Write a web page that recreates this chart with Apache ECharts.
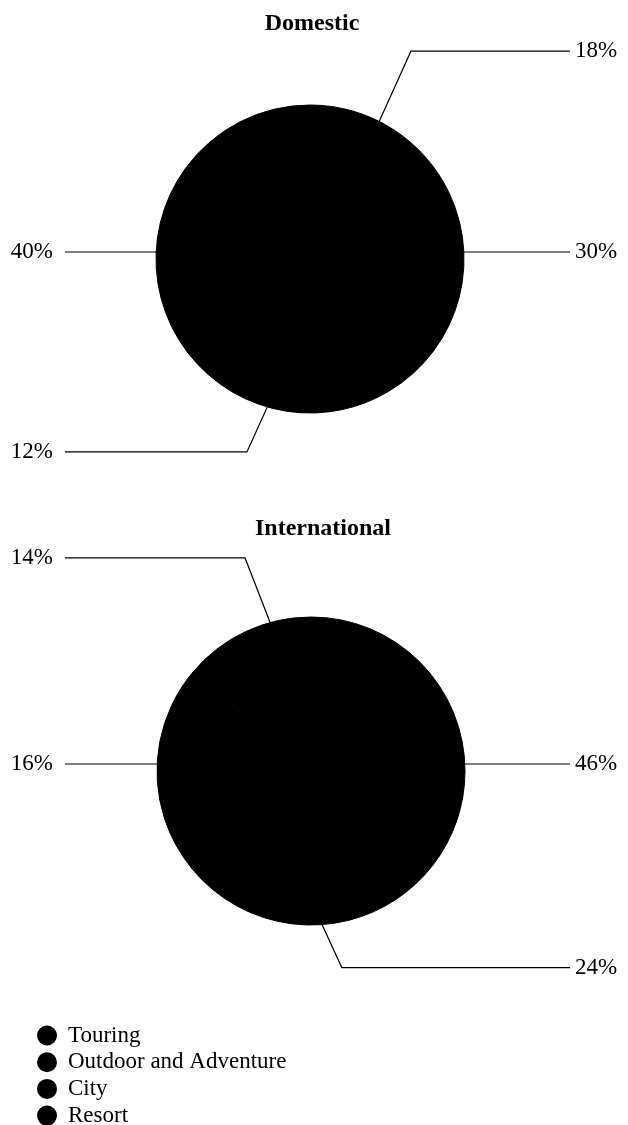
<!DOCTYPE html>
<html>
<head>
<meta charset="utf-8">
<title>Domestic and International</title>
<script src="https://cdn.jsdelivr.net/npm/echarts@6/dist/echarts.min.js"></script>
<style>
  html, body { margin: 0; padding: 0; background: #ffffff; }
  #chart { width: 628px; height: 1125px; }
</style>
</head>
<body>
<div id="chart"></div>
<script>
// Trip types (legend order) and their shares in each market, in percent
const categories = ['Touring', 'Outdoor and Adventure', 'City', 'Resort'];
const domesticShares = [18, 30, 12, 40];
const internationalShares = [46, 24, 16, 14];
const pieTitles = ['Domestic', 'International'];

// Pie placement (pixels)
const PIES = [
  { center: [310, 259], radius: 154, titleX: 312, titleY: 25 },
  { center: [311, 771], radius: 154, titleX: 323, titleY: 530 }
];

// Leader line routing per label: attach angle on the rim (degrees clockwise
// from 12 o'clock) and an optional elbow given in polar form (angle, radius).
const LEADERS = [
  [ { a: 26.7, ea: 25.9, er: 231 }, { a: 87.4 }, { a: 196.1, ea: 198.1, er: 203 }, { a: 272.6 } ],
  [ { a: 87.4 }, { a: 175.9, ea: 171.1, er: 199 }, { a: 272.6 }, { a: 344.6, ea: 342.8, er: 223 } ]
];
const LINE_RIGHT = 570, LINE_LEFT = 65;
const LABEL_RIGHT = 575, LABEL_LEFT = 53;

const FONT = '"Liberation Serif", "Times New Roman", serif';

function polar(c, r, deg) {
  const t = deg * Math.PI / 180;
  return [c[0] + r * Math.sin(t), c[1] - r * Math.cos(t)];
}

function leaderLayout(params) {
  const pie = PIES[params.seriesIndex];
  const L = LEADERS[params.seriesIndex][params.dataIndex];
  const p0 = polar(pie.center, pie.radius, L.a);
  const p1 = L.ea != null ? polar(pie.center, L.er, L.ea) : p0;
  const right = p1[0] > pie.center[0];
  const p2 = [right ? LINE_RIGHT : LINE_LEFT, p1[1]];
  return {
    x: right ? LABEL_RIGHT : LABEL_LEFT,
    y: p1[1],
    align: right ? 'left' : 'right',
    verticalAlign: 'middle',
    labelLinePoints: [p0, p1, p2]
  };
}

function pieSeries(idx, values) {
  return {
    type: 'pie',
    name: pieTitles[idx],
    center: PIES[idx].center,
    radius: PIES[idx].radius,
    startAngle: 90,
    clockwise: true,
    avoidLabelOverlap: false,
    silent: true,
    itemStyle: { color: '#000000', borderColor: '#000000', borderWidth: 1 },
    label: {
      show: true,
      position: 'outside',
      formatter: '{c}%',
      color: '#000000',
      fontFamily: FONT,
      fontSize: 23
    },
    labelLine: {
      show: true,
      length: 10,
      length2: 10,
      lineStyle: { color: '#000000', width: 1.2 }
    },
    labelLayout: leaderLayout,
    emphasis: { disabled: true },
    data: categories.map((name, i) => ({ name: name, value: values[i] }))
  };
}

const chart = echarts.init(document.getElementById('chart'), null, { renderer: 'canvas' });

chart.setOption({
  backgroundColor: '#ffffff',
  animation: false,
  title: PIES.map((p, i) => ({
    text: pieTitles[i],
    left: p.titleX,
    top: p.titleY - 13,
    textAlign: 'center',
    padding: 0,
    textStyle: {
      fontFamily: FONT,
      fontWeight: 'bold',
      fontSize: 24,
      color: '#000000'
    }
  })),
  legend: {
    data: categories,
    orient: 'vertical',
    left: 37,
    top: 1024,
    height: 120,
    padding: 0,
    itemWidth: 18,
    itemHeight: 18,
    itemGap: 3.7,
    icon: 'circle',
    selectedMode: false,
    textStyle: {
      fontFamily: FONT,
      fontSize: 23,
      color: '#000000',
      padding: [0, 0, 0, 7]
    }
  },
  series: [
    pieSeries(0, domesticShares),
    pieSeries(1, internationalShares)
  ]
});
</script>
</body>
</html>
